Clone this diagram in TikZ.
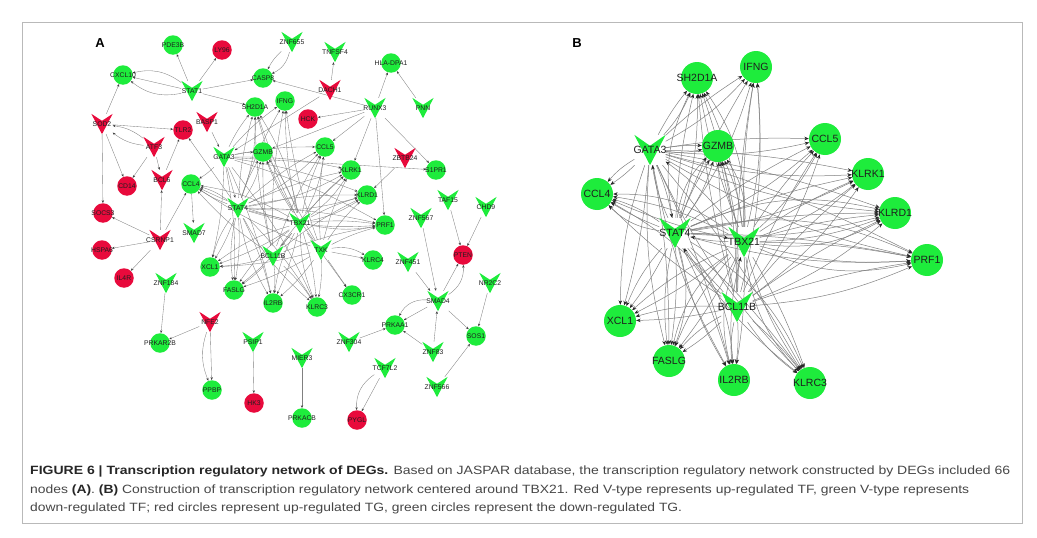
\documentclass[tikz,border=0pt]{standalone}
\usepackage{fontspec}
\setmainfont{Liberation Sans}
\usepackage{graphicx}
\usetikzlibrary{arrows.meta,backgrounds}
\definecolor{ng}{RGB}{30,236,60}
\definecolor{nr}{RGB}{232,10,60}
\definecolor{lbl}{RGB}{30,30,30}
\definecolor{cap}{RGB}{70,70,70}
\tikzset{
  lA/.style={inner sep=0pt, font=\fontsize{6.8}{7.5}\selectfont, text=lbl},
  lB/.style={inner sep=0pt, font=\fontsize{10.5}{12}\selectfont, text=lbl},
  cAst/.style={circle, inner sep=0pt, minimum size=19.5pt, fill=#1},
  cBst/.style={circle, inner sep=0pt, minimum size=32pt, fill=#1},
  vAst/.style={rectangle, inner sep=0pt, minimum width=21pt, minimum height=20pt},
  vBst/.style={rectangle, inner sep=0pt, minimum width=31pt, minimum height=30pt},
  ea/.style={draw=black!50, line width=0.35pt, -{Stealth[length=2.8pt,width=2.3pt,color=black!75]}},
  eb/.style={draw=black!50, line width=0.5pt, -{Stealth[length=4.5pt,width=3.6pt,color=black!85]}},
}
\newcommand\cA[5]{\node[cAst=#4] (#1) at (#2,#3) {}; \node[lA] (#1-l) at (#1.center) {#5};}
\newcommand\cB[4]{\node[cBst=ng] (#1) at (#2,#3) {}; \node[lB] (#1-l) at (#1.center) {#4};}
\newcommand\vA[5]{\node[vAst] (#1) at (#2,#3) {};
  \fill[#4] (#1.north west) -- ([yshift=-7pt]#1.north) -- (#1.north east) -- (#1.south) -- cycle;
  \node[lA] (#1-l) at (#1.center) {#5};}
\newcommand\vB[4]{\node[vBst] (#1) at (#2,#3) {};
  \fill[ng] (#1.north west) -- ([yshift=-11pt]#1.north) -- (#1.north east) -- (#1.south) -- cycle;
  \node[lB] (#1-l) at (#1.center) {#4};}
\begin{document}
\begin{tikzpicture}[x=1pt,y=-1pt]
\useasboundingbox (0,0) rectangle (1037,538);
\draw[gray!55, line width=0.8pt] (22,22) rectangle (1022,523);
\node[font=\bfseries\fontsize{13}{15}\selectfont] (labA) at (100,43) {A};
\node[font=\bfseries\fontsize{13}{15}\selectfont] (labB) at (577,43) {B};
% ---------- Panel A nodes ----------
\cA{pde3b}{173}{45}{ng}{PDE3B}
\cA{ly96}{222}{50}{nr}{LY96}
\cA{hla}{391}{63}{ng}{HLA-DPA1}
\cA{cxcl10}{123}{75}{ng}{CXCL10}
\cA{casp8}{263}{78}{ng}{CASP8}
\cA{sh2A}{255}{107}{ng}{SH2D1A}
\cA{ifngA}{285}{101}{ng}{IFNG}
\cA{hck}{308}{119}{nr}{HCK}
\cA{tlr2}{183}{130}{nr}{TLR2}
\cA{gzmbA}{263}{152}{ng}{GZMB}
\cA{ccl5A}{325}{147}{ng}{CCL5}
\cA{klrk1A}{351}{170}{ng}{KLRK1}
\cA{s1pr1}{436}{170}{ng}{S1PR1}
\cA{ccl4A}{191}{184}{ng}{CCL4}
\cA{cd14}{127}{186}{nr}{CD14}
\cA{klrd1A}{367}{195}{ng}{KLRD1}
\cA{socs3}{103}{213}{nr}{SOCS3}
\cA{prf1A}{385}{225}{ng}{PRF1}
\cA{hspa6}{102}{250}{nr}{HSPA6}
\cA{pten}{463}{255}{nr}{PTEN}
\cA{klrc4A}{373}{260}{ng}{KLRC4}
\cA{xcl1A}{210}{267}{ng}{XCL1}
\cA{il4r}{124}{278}{nr}{IL4R}
\cA{faslgA}{234}{290}{ng}{FASLG}
\cA{cx3cr1}{352}{295}{ng}{CX3CR1}
\cA{il2rbA}{273}{303}{ng}{IL2RB}
\cA{klrc3A}{317}{307}{ng}{KLRC3}
\cA{prkaa1}{395}{325}{ng}{PRKAA1}
\cA{sos1}{476}{336}{ng}{SOS1}
\cA{prkar2b}{160}{343}{ng}{PRKAR2B}
\cA{ppbp}{212}{390}{ng}{PPBP}
\cA{hk3}{254}{403}{nr}{HK3}
\cA{prkacb}{302}{418}{ng}{PRKACB}
\cA{pygl}{357}{420}{nr}{PYGL}
\vA{znf655}{292}{42}{ng}{ZNF655}
\vA{tnfsf4}{335}{52}{ng}{TNFSF4}
\vA{stat1}{192}{91}{ng}{STAT1}
\vA{dach1}{330}{90}{nr}{DACH1}
\vA{runx3}{375}{108}{ng}{RUNX3}
\vA{pnn}{423}{108}{ng}{PNN}
\vA{sod2}{102}{124}{nr}{SOD2}
\vA{basp1}{207}{122}{nr}{BASP1}
\vA{atf3}{154}{147}{nr}{ATF3}
\vA{gataA}{224}{157}{ng}{GATA3}
\vA{zbtb24}{405}{158}{nr}{ZBTB24}
\vA{bcl6}{162}{180}{nr}{BCL6}
\vA{stat4A}{238}{208}{ng}{STAT4}
\vA{tbxA}{300}{223}{ng}{TBX21}
\vA{taf15}{448}{200}{ng}{TAF15}
\vA{chd9}{486}{207}{ng}{CHD9}
\vA{znf567}{421}{218}{ng}{ZNF567}
\vA{smad7}{194}{233}{ng}{SMAD7}
\vA{csrnp1}{160}{240}{nr}{CSRNP1}
\vA{bclA}{273}{256}{ng}{BCL11B}
\vA{txk}{321}{250}{ng}{TXK}
\vA{znf451}{408}{262}{ng}{ZNF451}
\vA{znf184}{166}{283}{ng}{ZNF184}
\vA{nr2c2}{490}{283}{ng}{NR2C2}
\vA{smad4}{438}{301}{ng}{SMAD4}
\vA{nfe2}{210}{322}{nr}{NFE2}
\vA{psip1}{253}{342}{ng}{PSIP1}
\vA{znf304}{349}{342}{ng}{ZNF304}
\vA{znf83}{433}{352}{ng}{ZNF83}
\vA{mier3}{302}{358}{ng}{MIER3}
\vA{tcf7l2}{385}{368}{ng}{TCF7L2}
\vA{znf566}{437}{387}{ng}{ZNF566}
% ---------- Panel B nodes ----------
\cB{sh2B}{697}{78}{SH2D1A}
\cB{ifngB}{756}{67}{IFNG}
\cB{gzmbB}{718}{146}{GZMB}
\cB{ccl5B}{825}{139}{CCL5}
\cB{klrk1B}{868}{174}{KLRK1}
\cB{ccl4B}{597}{194}{CCL4}
\cB{klrd1B}{895}{213}{KLRD1}
\cB{prf1B}{927}{260}{PRF1}
\cB{xcl1B}{620}{321}{XCL1}
\cB{faslgB}{669}{361}{FASLG}
\cB{il2rbB}{734}{380}{IL2RB}
\cB{klrc3B}{810}{383}{KLRC3}
\vB{gataB}{650}{150}{GATA3}
\vB{stat4B}{675}{233}{STAT4}
\vB{tbxB}{744}{242}{TBX21}
\vB{bclB}{737}{307}{BCL11B}
% ---------- edges ----------
\begin{pgfonlayer}{background}
\draw[ea] (stat1) -- (pde3b);
\draw[ea] (stat1) -- (ly96);
\draw[ea] (stat1) -- (cxcl10);
\draw[ea] (stat1) to[bend right=25] (cxcl10);
\draw[ea] (stat1) to[bend left=25] (cxcl10);
\draw[ea] (stat1) -- (casp8);
\draw[ea] (stat1) -- (sh2A);
\draw[ea] (znf655) to[bend left=25] (casp8);
\draw[ea] (znf655) to[bend right=10] (casp8);
\draw[ea] (runx3) -- (casp8);
\draw[ea] (dach1) -- (tnfsf4);
\draw[ea] (dach1) -- (gataA);
\draw[ea] (runx3) -- (hla);
\draw[ea] (pnn) -- (hla);
\draw[ea] (runx3) -- (hck);
\draw[ea] (runx3) -- (ccl5A);
\draw[ea] (runx3) -- (klrk1A);
\draw[ea] (runx3) -- (s1pr1);
\draw[ea] (runx3) -- (prf1A);
\draw[ea] (runx3) -- (gzmbA);
\draw[ea] (zbtb24) -- (klrd1A);
\draw[ea] (gataA) -- (s1pr1);
\draw[ea] (sod2) -- (cxcl10);
\draw[ea] (sod2) -- (tlr2);
\draw[ea] (sod2) -- (cd14);
\draw[ea] (sod2) -- (socs3);
\draw[ea] (atf3) to[bend left=15] (sod2);
\draw[ea] (atf3) to[bend right=15] (sod2);
\draw[ea] (atf3) -- (cd14);
\draw[ea] (atf3) -- (bcl6);
\draw[ea] (basp1) -- (gataA);
\draw[ea] (bcl6) -- (tlr2);
\draw[ea] (stat4A) -- (tlr2);
\draw[ea] (csrnp1) -- (bcl6);
\draw[ea] (csrnp1) -- (socs3);
\draw[ea] (csrnp1) -- (hspa6);
\draw[ea] (csrnp1) -- (il4r);
\draw[ea] (csrnp1) -- (ccl4A);
\draw[ea] (ccl4A) -- (smad7);
\draw[ea] (znf184) -- (prkar2b);
\draw[ea] (nfe2) -- (prkar2b);
\draw[ea] (nfe2) -- (ppbp);
\draw[ea] (nfe2) to[bend right=20] (ppbp);
\draw[ea] (psip1) -- (hk3);
\draw[ea] (mier3) -- (prkacb);
\draw[ea] (tcf7l2) -- (pygl);
\draw[ea] (tcf7l2) to[bend right=30] (pygl);
\draw[ea] (znf566) -- (sos1);
\draw[ea] (nr2c2) -- (sos1);
\draw[ea] (smad4) -- (sos1);
\draw[ea] (smad4) -- (prkaa1);
\draw[ea] (smad4) to[bend right=35] (prkaa1);
\draw[ea] (znf83) -- (prkaa1);
\draw[ea] (znf83) -- (smad4);
\draw[ea] (znf304) -- (prkaa1);
\draw[ea] (znf451) -- (smad4);
\draw[ea] (znf567) -- (smad4);
\draw[ea] (smad4) -- (pten);
\draw[ea] (smad4) to[bend right=30] (pten);
\draw[ea] (taf15) -- (pten);
\draw[ea] (chd9) -- (pten);
\draw[ea] (txk) -- (klrc4A);
\draw[ea] (txk) to[bend left=20] (klrc4A);
\draw[ea] (txk) -- (cx3cr1);
\draw[ea] (tbxA) -- (cx3cr1);
\draw[ea] (stat4A) -- (tbxA);
\draw[ea] (gataA) -- (stat4A);
\draw[ea] (tbxA) -- (bclA);
\foreach \s in {gataA,stat4A,tbxA,bclA,txk}{
  \foreach \t in {sh2A,ifngA,gzmbA,ccl4A,ccl5A,klrk1A,klrd1A,prf1A,xcl1A,faslgA,il2rbA,klrc3A}{
    \draw[ea] (\s) to[bend left=6] (\t);}}
\foreach \s in {stat4A,tbxA}{
  \foreach \t in {sh2A,gzmbA,ccl4A,ccl5A,klrk1A,klrd1A,prf1A,xcl1A,faslgA,il2rbA,klrc3A}{
    \draw[ea] (\s) to[bend right=10] (\t);}}
% panel B
\foreach \s in {gataB,stat4B,tbxB,bclB}{
  \foreach \t in {sh2B,ifngB,gzmbB,ccl4B,ccl5B,klrk1B,klrd1B,prf1B,xcl1B,faslgB,il2rbB,klrc3B}{
    \draw[eb] (\s) to[bend left=5] (\t);
    \draw[eb] (\s) to[bend right=9] (\t);}}
\foreach \t in {sh2B,gzmbB,ccl4B,klrd1B,prf1B,il2rbB,klrc3B,faslgB}{
  \draw[eb] (stat4B) to[bend left=18] (\t);
  \draw[eb] (tbxB) to[bend right=18] (\t);}
\draw[eb] (tbxB) to[bend right=8] (gataB);
\draw[eb] (stat4B) to[bend left=8] (gataB);
\draw[eb] (bclB) to[bend left=6] (tbxB);
\draw[eb] (tbxB) to[bend left=6] (stat4B);
\draw[eb] (stat4B) to[bend left=6] (tbxB);
\draw[eb] (gataB) to[bend left=6] (stat4B);
\draw[eb] (bclB) to[bend left=10] (stat4B);
\end{pgfonlayer}
% ---------- caption ----------
\node[anchor=base west, inner sep=0pt, text=cap, font=\fontsize{12}{14}\selectfont] (cap1) at (30,474.5)
 {\resizebox{980pt}{\height}{\textcolor{black!85}{\bfseries FIGURE 6 | Transcription regulatory network of DEGs.} Based on JASPAR database, the transcription regulatory network constructed by DEGs included 66}};
\node[anchor=base west, inner sep=0pt, text=cap, font=\fontsize{12}{14}\selectfont] (cap2) at (30,493)
 {\resizebox{939pt}{\height}{nodes \textcolor{black!85}{\bfseries(A)}. \textcolor{black!85}{\bfseries(B)} Construction of transcription regulatory network centered around TBX21. Red V-type represents up-regulated TF, green V-type represents}};
\node[anchor=base west, inner sep=0pt, text=cap, font=\fontsize{12}{14}\selectfont] (cap3) at (30,511.5)
 {\resizebox{652pt}{\height}{down-regulated TF; red circles represent up-regulated TG, green circles represent the down-regulated TG.}};
\end{tikzpicture}
\end{document}
